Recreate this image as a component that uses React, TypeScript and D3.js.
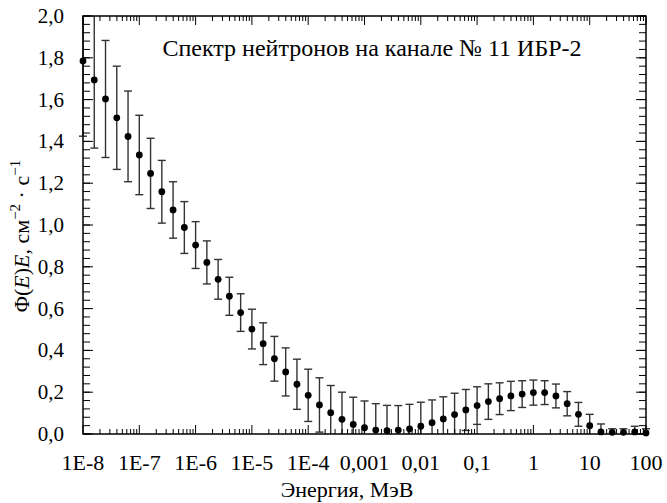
import React from 'react';
import * as d3 from 'd3';

// Energy grid, log10(E / MeV)
const logEnergy = [
  -8, -7.8, -7.6, -7.4, -7.2, -7, -6.8, -6.6, -6.4, -6.2,
  -6, -5.8, -5.6, -5.4, -5.2, -5, -4.8, -4.6, -4.4, -4.2,
  -4, -3.8, -3.6, -3.4, -3.2, -3, -2.8, -2.6, -2.4, -2.2,
  -2, -1.8, -1.6, -1.4, -1.2, -1, -0.8, -0.6, -0.4, -0.2,
  0, 0.2, 0.4, 0.6, 0.8, 1, 1.2, 1.4, 1.6, 1.8, 2,
];

// Φ(E)E values
const flux = [
  1.785, 1.694, 1.603, 1.513, 1.424, 1.335, 1.247, 1.159, 1.072, 0.988,
  0.904, 0.821, 0.74, 0.659, 0.581, 0.502, 0.432, 0.36, 0.297, 0.238,
  0.185, 0.139, 0.102, 0.07, 0.046, 0.03, 0.019, 0.016, 0.019, 0.025,
  0.037, 0.054, 0.072, 0.093, 0.115, 0.136, 0.155, 0.169, 0.182, 0.191,
  0.198, 0.198, 0.182, 0.145, 0.094, 0.04, 0.01, 0.008, 0.008, 0.01, 0.005,
];

// error bar half-heights
const fluxErr = [
  0.36, 0.326, 0.28, 0.247, 0.217, 0.19, 0.168, 0.15, 0.135, 0.124,
  0.112, 0.103, 0.095, 0.091, 0.09, 0.095, 0.1, 0.107, 0.115, 0.12,
  0.125, 0.13, 0.13, 0.13, 0.13, 0.128, 0.126, 0.121, 0.117, 0.117,
  0.115, 0.109, 0.106, 0.102, 0.098, 0.09, 0.085, 0.076, 0.07, 0.064,
  0.06, 0.057, 0.057, 0.058, 0.057, 0.054, 0.038, 0.017, 0.017, 0.027, 0.02,
];

const xTickLabels = ['1E-8', '1E-7', '1E-6', '1E-5', '1E-4', '0,001', '0,01', '0,1', '1', '10', '100'];
const yTickLabels = ['0,0', '0,2', '0,4', '0,6', '0,8', '1,0', '1,2', '1,4', '1,6', '1,8', '2,0'];

const width = 667;
const height = 503;
const margin = { left: 83, right: 21, top: 16, bottom: 69 };
const serif = { fontFamily: 'Liberation Serif' };

export default function App() {
  const x = d3.scaleLog().domain([1e-8, 100]).range([margin.left, width - margin.right]);
  const y = d3.scaleLinear().domain([0, 2]).range([height - margin.bottom, margin.top]);

  const x0 = margin.left;
  const x1 = width - margin.right;
  const y0 = height - margin.bottom;
  const y1 = margin.top;

  // log ticks: majors at decades, minors at 2..9
  const majorX = d3.range(-8, 3).map((k) => Math.pow(10, k));
  const minorX: number[] = [];
  d3.range(-8, 2).forEach((k) => {
    for (let m = 2; m <= 9; m++) minorX.push(m * Math.pow(10, k));
  });
  const yMinor = d3.range(0, 51).map((i) => i * 0.04);
  const yMajor = d3.range(0, 11).map((i) => i * 0.2);

  const points = logEnergy.map((le, i) => ({
    e: Math.pow(10, le),
    v: flux[i],
    lo: Math.max(0, flux[i] - fluxErr[i]),
    hi: Math.min(2, flux[i] + fluxErr[i]),
  }));

  const cap = 4;

  return (
    <svg
      width={width}
      height={height}
      style={{ position: 'absolute', left: 0, top: 0, background: '#fff' }}
    >
      {/* error bars */}
      <g stroke="#333" strokeWidth={1.4}>
        {points.map((p, i) => {
          const cx = x(p.e);
          return (
            <g key={i}>
              <line x1={cx} x2={cx} y1={y(p.lo)} y2={y(p.hi)} />
              {p.hi < 2 && <line x1={cx - cap} x2={cx + cap} y1={y(p.hi)} y2={y(p.hi)} />}
              {p.lo > 0 && <line x1={cx - cap} x2={cx + cap} y1={y(p.lo)} y2={y(p.lo)} />}
            </g>
          );
        })}
      </g>
      {/* points */}
      <g fill="#000">
        {points.map((p, i) => (
          <circle key={i} cx={x(p.e)} cy={y(p.v)} r={3.4} />
        ))}
      </g>

      {/* ticks */}
      <g stroke="#000" strokeWidth={1}>
        {minorX.map((v, i) => (
          <g key={'mx' + i}>
            <line x1={x(v)} x2={x(v)} y1={y0} y2={y0 - 5} />
            <line x1={x(v)} x2={x(v)} y1={y1} y2={y1 + 5} />
          </g>
        ))}
        {majorX.map((v, i) => (
          <g key={'Mx' + i}>
            <line x1={x(v)} x2={x(v)} y1={y0} y2={y0 - 9} />
            <line x1={x(v)} x2={x(v)} y1={y1} y2={y1 + 9} />
          </g>
        ))}
        {yMinor.map((v, i) => (
          <g key={'my' + i}>
            <line x1={x0} x2={x0 + 7} y1={y(v)} y2={y(v)} />
            <line x1={x1} x2={x1 - 7} y1={y(v)} y2={y(v)} />
          </g>
        ))}
        {yMajor.map((v, i) => (
          <g key={'My' + i}>
            <line x1={x0} x2={x0 + 10} y1={y(v)} y2={y(v)} />
            <line x1={x1} x2={x1 - 10} y1={y(v)} y2={y(v)} />
          </g>
        ))}
      </g>

      {/* frame */}
      <rect x={x0} y={y1} width={x1 - x0} height={y0 - y1} fill="none" stroke="#000" strokeWidth={1.5} />

      {/* tick labels */}
      <g fill="#000">
        {majorX.map((v, i) => (
          <text key={'lx' + i} x={x(v)} y={y0 + 36} textAnchor="middle" fontSize={22} style={serif}>
            {xTickLabels[i]}
          </text>
        ))}
        {yMajor.map((v, i) => (
          <text key={'ly' + i} x={x0 - 19} y={y(v) + 7} textAnchor="end" fontSize={21} style={serif}>
            {yTickLabels[i]}
          </text>
        ))}
      </g>

      {/* title inside plot */}
      <text x={372} y={56} fontSize={24} textAnchor="middle" style={serif}>
        Спектр нейтронов на канале № 11 ИБР-2
      </text>

      {/* axis titles */}
      <text x={347} y={497} fontSize={22} textAnchor="middle" style={serif}>
        Энергия, МэВ
      </text>
      <text transform="translate(29,236) rotate(-90)" fontSize={22} textAnchor="middle" style={serif}>
        Φ(<tspan fontStyle="italic">E</tspan>)<tspan fontStyle="italic">E</tspan>, см
        <tspan fontSize={15} dy={-9}>−2</tspan>
        <tspan dy={9}> · с</tspan>
        <tspan fontSize={15} dy={-9}>−1</tspan>
      </text>
    </svg>
  );
}
